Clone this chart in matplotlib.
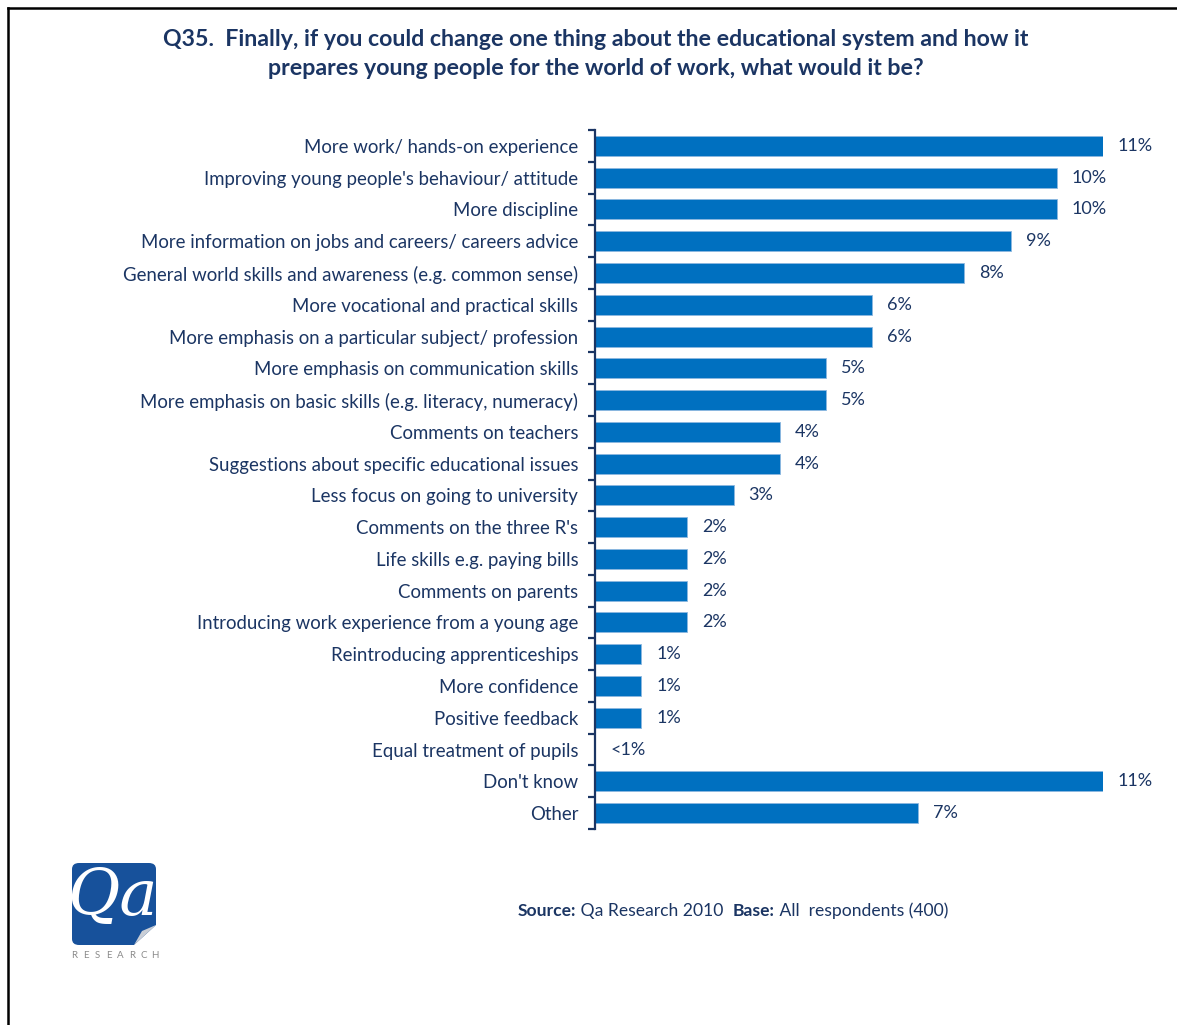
import matplotlib
matplotlib.use("Agg")
import matplotlib.pyplot as plt
from matplotlib.patches import FancyBboxPatch, Polygon
from matplotlib.lines import Line2D

# Survey answers, top to bottom
categories = [
    "More work/ hands-on experience",
    "Improving young people's behaviour/ attitude",
    "More discipline",
    "More information on jobs and careers/ careers advice",
    "General world skills and awareness (e.g. common sense)",
    "More vocational and practical skills",
    "More emphasis on a particular subject/ profession",
    "More emphasis on communication skills",
    "More emphasis on basic skills (e.g. literacy, numeracy)",
    "Comments on teachers",
    "Suggestions about specific educational issues",
    "Less focus on going to university",
    "Comments on the three R's",
    "Life skills e.g. paying bills",
    "Comments on parents",
    "Introducing work experience from a young age",
    "Reintroducing apprenticeships",
    "More confidence",
    "Positive feedback",
    "Equal treatment of pupils",
    "Don't know",
    "Other",
]
values = [11, 10, 10, 9, 8, 6, 6, 5, 5, 4, 4, 3, 2, 2, 2, 2, 1, 1, 1, 0, 11, 7]
value_labels = ["11%", "10%", "10%", "9%", "8%", "6%", "6%", "5%", "5%", "4%",
                "4%", "3%", "2%", "2%", "2%", "2%", "1%", "1%", "1%", "<1%",
                "11%", "7%"]

title_lines = ["Q35.  Finally, if you could change one thing about the educational system and how it",
               "prepares young people for the world of work, what would it be?"]

FONT = "Lato"
NAVY = "#1B3563"
BAR = "#0070C0"

W, H = 1177, 1025
fig = plt.figure(figsize=(W / 100, H / 100), dpi=100)

# Page frame (left and top edges)
fig.add_artist(Line2D([7.5 / W, 7.5 / W], [0, 1 - 7.5 / H], transform=fig.transFigure,
                      color="black", lw=1.8))
fig.add_artist(Line2D([7.5 / W, 1], [1 - 7.5 / H, 1 - 7.5 / H], transform=fig.transFigure,
                      color="black", lw=1.8))

for line, yline in zip(title_lines, [40, 68]):
    fig.text(596 / W, 1 - yline / H, line, ha="center", va="center", fontsize=16.7,
             fontweight="bold", color=NAVY, family=FONT)

x0, x1 = 595, 1103
y_top, y_bot = 130, 829
ax = fig.add_axes([x0 / W, 1 - y_bot / H, (x1 - x0) / W, (y_bot - y_top) / H])
n = len(categories)
ypos = list(range(n))
ax.barh(ypos, values, height=0.63, color=BAR, edgecolor="#8DB8E0", linewidth=0.6)
ax.set_xlim(0, 11)
ax.set_ylim(n - 0.5, -0.5)

for s in ["top", "right", "bottom"]:
    ax.spines[s].set_visible(False)
ax.spines["left"].set_color(NAVY)
ax.spines["left"].set_linewidth(1.6)
ax.set_xticks([])
ax.set_yticks(ypos)
ax.set_yticklabels(categories, fontsize=13.4, color=NAVY, family=FONT)
ax.tick_params(axis="y", which="major", length=0, pad=12)
ax.set_yticks([i - 0.5 for i in range(n + 1)], minor=True)
ax.tick_params(axis="y", which="minor", length=5, width=1.6, color=NAVY, direction="out")

for y, v, lab in zip(ypos, values, value_labels):
    ax.annotate(lab, xy=(v, y), xytext=(15, 0), textcoords="offset pixels",
                ha="left", va="center", fontsize=13, color=NAVY, family=FONT)

# Logo
lx0, ly0, lx1, ly1 = 72, 863, 156, 945
logo = FancyBboxPatch((lx0 / W, 1 - ly1 / H), (lx1 - lx0) / W, (ly1 - ly0) / H,
                      boxstyle="round,pad=0,rounding_size=0.006", transform=fig.transFigure,
                      facecolor="#17519B", edgecolor="none")
fig.add_artist(logo)
fig.add_artist(Polygon([((lx1 - 22) / W, 1 - ly1 / H), (lx1 / W, 1 - ly1 / H),
                        (lx1 / W, 1 - (ly1 - 20) / H)], closed=True,
                       transform=fig.transFigure, facecolor="white", edgecolor="none"))
fig.add_artist(Polygon([((lx1 - 22) / W, 1 - ly1 / H), (lx1 / W, 1 - (ly1 - 20) / H),
                        ((lx1 - 14) / W, 1 - (ly1 - 14) / H)], closed=True,
                       transform=fig.transFigure, facecolor="#C9CED6", edgecolor="none"))
fig.text(112 / W, 1 - 898 / H, "Qa", ha="center", va="center", fontsize=46,
         style="italic", family="DejaVu Serif", color="white")
for i, ch in enumerate("RESEARCH"):
    fig.text((74 + i * 11.6) / W, 1 - 955 / H, ch, ha="center", va="center",
             fontsize=7, color="#8A8A8A", family=FONT)

# Source line with mixed weights
parts = [("Source:", "bold"), (" Qa Research 2010  ", "normal"),
         ("Base:", "bold"), (" All  respondents (400)", "normal")]
fig.canvas.draw()
r = fig.canvas.get_renderer()
x = 518
for txt, wt in parts:
    t = fig.text(x / W, 1 - 911 / H, txt, ha="left", va="center", fontsize=12.6,
                 fontweight=wt, color=NAVY, family=FONT)
    x += t.get_window_extent(renderer=r).width

fig.savefig("out.png", dpi=100)
